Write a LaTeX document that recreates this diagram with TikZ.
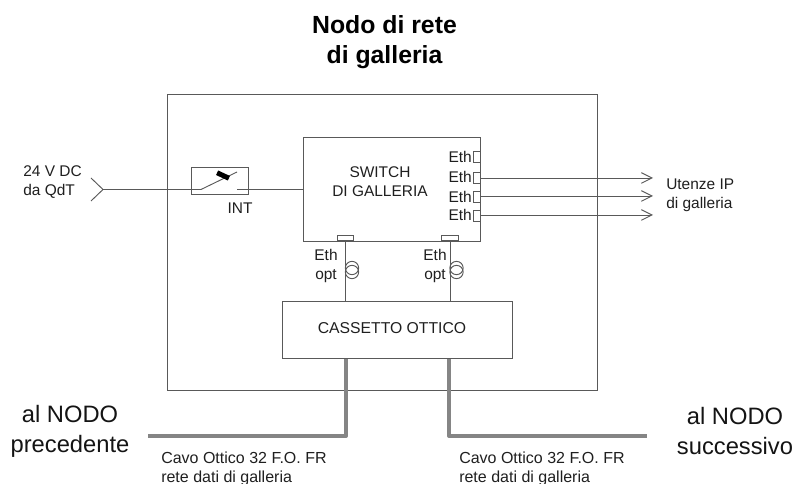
\documentclass[tikz,border=0pt]{standalone}
\usepackage{fontspec}
\setmainfont{Liberation Sans}
\usetikzlibrary{arrows.meta}
\tikzset{
  ln/.style={draw=black!65,line width=0.7pt},
  box/.style={ln,rectangle,inner sep=0pt,anchor=north west},
  lab/.style={inner sep=0pt,text=black!88,font=\fontsize{11.6}{14.25}\selectfont,align=center},
  small/.style={inner sep=0pt,text=black!88,font=\fontsize{12}{14.25}\selectfont,align=left,anchor=west},
  big/.style={inner sep=0pt,text=black!92,font=\fontsize{17.8}{22.5}\selectfont,align=center},
  titl/.style={inner sep=0pt,text=black,font=\fontsize{18.6}{22.5}\selectfont\bfseries,align=center},
  cable/.style={draw=black!48,line width=3pt},
  port/.style={ln,rectangle,inner sep=0pt,minimum width=5.25pt,minimum height=8.6pt,anchor=west},
  oport/.style={ln,rectangle,inner sep=0pt,minimum width=12.6pt,minimum height=3.8pt,anchor=south},
  coil/.style={ln,circle,inner sep=0pt,minimum size=10pt},
  arr/.style={ln,-{Straight Barb[length=8pt,width=8pt]}}
}
\begin{document}
\begin{tikzpicture}[x=0.75pt,y=-0.75pt]
\useasboundingbox (0,0) rectangle (793,484);
\node[titl] (title) at (384.5,42) {Nodo di rete\\di galleria};
\node[box,minimum width=323pt,minimum height=222pt] (outer) at (166.5,94) {};
\node[box,minimum width=132.75pt,minimum height=78pt] (sw) at (303,137) {};
\node[box,minimum width=172.5pt,minimum height=42.75pt] (cass) at (282,301) {};
\node[box,minimum width=43pt,minimum height=20.25pt] (int) at (191,167) {};
\node[lab] (swl) at (380,181.5) {SWITCH\\DI GALLERIA};
\node[lab,font=\fontsize{11.8}{14.25}\selectfont] (cl) at (392,328) {CASSETTO OTTICO};
\node[lab] (intl) at (240,208) {INT};
\node[lab,align=left,anchor=west] (dc) at (23,182) {24 V DC\\da QdT};
\node[lab,align=left,anchor=west] (ut) at (666,195) {Utenze IP\\di galleria};
\foreach \n/\y/\t in {a/157/157,b/178/177,c/197/197,d/216/215}{
  \node[port] (p\n) at (473,\y) {};
  \node[lab,anchor=east] (e\n) at (472,\t) {Eth};
}
\coordinate (tb) at (653,178); \coordinate (tc) at (653,196); \coordinate (td) at (653,215);
\draw[arr] (pb.east |- tb) -- (tb);
\draw[arr] (pc.east |- tc) -- (tc);
\draw[arr] (pd.east |- td) -- (td);
\node[oport] (o1) at (345.5,241) {};
\node[oport] (o2) at (450,241) {};
\draw[ln] (o1.south) -- (o1.south |- cass.north);
\draw[ln] (o2.south) -- (o2.south |- cass.north);
\node[coil] (c1a) at (352,268) {}; \node[coil] (c1b) at (352,272) {};
\node[coil] (c2a) at (456.5,268) {}; \node[coil] (c2b) at (456.5,272) {};
\node[lab] (eo1) at (326,266.5) {Eth\\opt};
\node[lab] (eo2) at (435,266.5) {Eth\\opt};
% input and switch
\coordinate (in) at (103,189.5);
\coordinate (i1) at (91,178); \coordinate (i2) at (91,201);
\coordinate (fe) at (237,172); \coordinate (mid) at (201,189.5); \coordinate (ct) at (237,189.5);
\draw[ln] (i1) -- (in) -- (i2);
\draw[ln] (in) -- (mid) -- (fe);
\draw[ln] (ct) -- (ct -| sw.west);
\fill[black,rotate around={-25:(223,175.5)}] (216.5,173) rectangle (229.5,178);
% cables
\coordinate (k1) at (346,436); \coordinate (k2) at (449,436);
\coordinate (ke1) at (148,436); \coordinate (ke2) at (647,436);
\draw[cable,line join=round] (k1 |- cass.south) -- (k1) -- (ke1);
\draw[cable,line join=round] (k2 |- cass.south) -- (k2) -- (ke2);
\node[big] (al1) at (70,431) {al NODO\\precedente};
\node[big] (al2) at (735,431) {al NODO\\successivo};
\node[small] (cv1) at (161,468.5) {Cavo Ottico 32 F.O. FR\\rete dati di galleria};
\node[small] (cv2) at (459,468.5) {Cavo Ottico 32 F.O. FR\\rete dati di galleria};
\end{tikzpicture}
\end{document}
